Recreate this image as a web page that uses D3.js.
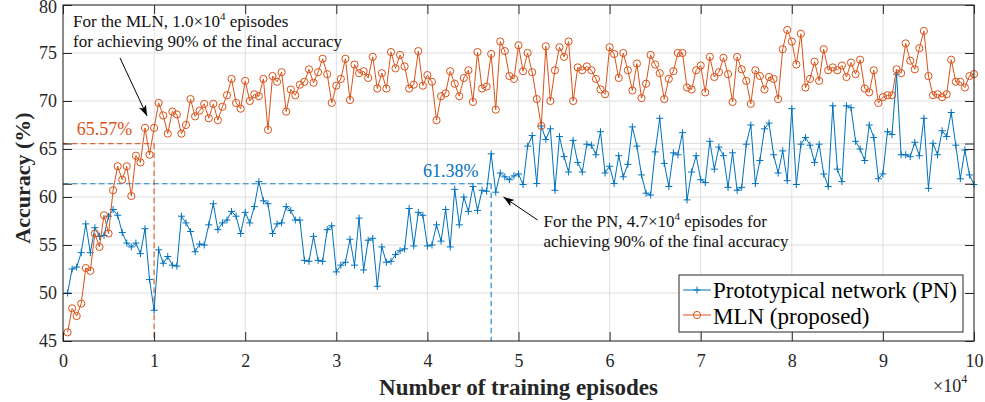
<!DOCTYPE html>
<html>
<head>
<meta charset="utf-8">
<script src="https://cdn.jsdelivr.net/npm/d3@7"></script>
<style>
  html, body { margin: 0; padding: 0; background: #fff; }
  svg { display: block; }
  svg text { font-family: "Liberation Serif", "Times New Roman", serif; }
</style>
</head>
<body>
<svg id="chart" width="985" height="402"></svg>
<script>
// ---- data (accuracy %, one value every 0.05 x 10^4 episodes, from 0.05 to 10) ----
const episodeStep = 0.05;
const pnAccuracy = [
  50.0,52.5,52.7,54.2,57.2,54.2,56.8,55.9,56.0,58.0,
  58.7,58.1,56.3,55.2,54.8,55.2,54.1,56.7,51.4,48.2,
  54.5,53.1,53.8,52.9,52.8,58.0,57.3,56.4,54.3,55.1,
  55.0,57.1,59.3,56.6,57.3,57.6,58.5,58.0,56.2,58.4,
  57.3,59.0,61.6,59.6,59.3,56.2,57.2,57.3,59.0,58.6,
  57.6,57.6,53.4,53.3,55.9,53.4,53.3,56.6,57.0,52.2,
  52.9,53.2,55.6,52.9,57.8,52.4,55.5,55.7,50.7,54.8,
  53.2,53.3,54.0,54.4,54.6,58.8,54.9,58.4,58.1,54.9,
  55.0,57.1,55.4,58.7,54.8,60.8,57.1,60.0,58.5,61.1,
  58.6,60.7,60.6,64.5,60.5,62.5,62.1,61.8,62.2,62.4,
  61.3,65.3,66.4,61.4,67.4,66.0,67.1,60.7,66.3,64.2,
  62.6,65.9,63.6,62.6,65.5,65.4,64.4,66.8,62.5,63.2,
  61.4,64.3,62.1,63.4,67.3,65.3,62.3,60.4,60.2,64.7,
  68.2,63.5,61.1,64.6,64.4,66.7,59.7,62.6,64.3,61.8,
  61.5,65.8,62.9,65.2,64.3,61.0,64.6,60.7,61.0,65.5,
  67.5,61.4,63.8,67.1,67.7,64.4,62.5,64.8,61.7,69.2,
  61.3,65.5,66.2,65.4,63.6,65.5,62.4,61.1,69.5,62.9,
  61.6,69.5,69.3,65.8,65.0,63.8,67.5,66.2,61.9,62.4,
  66.8,66.5,72.8,64.4,64.4,64.2,65.7,64.3,68.2,60.9,
  65.6,64.4,66.9,66.3,68.8,65.4,61.9,64.9,62.3,61.3
];
const mlnAccuracy = [
  45.9,48.4,47.6,48.9,52.6,52.3,56.2,54.8,58.1,56.2,
  60.7,63.2,61.8,63.2,60.1,64.3,63.6,67.2,64.4,67.2,
  69.8,68.5,66.6,68.9,68.6,66.6,67.5,70.2,68.4,69.0,
  69.7,68.2,69.7,68.0,69.4,70.6,72.3,69.8,69.2,72.1,
  70.0,70.7,70.5,72.3,67.0,72.6,72.0,73.0,68.9,71.2,
  70.6,71.7,72.0,73.3,71.9,73.0,74.4,72.8,69.8,71.6,
  72.3,74.4,70.1,73.8,72.9,73.1,72.4,74.6,71.3,72.9,
  71.3,75.1,73.4,74.8,73.6,71.3,71.7,75.2,71.6,72.7,
  72.0,68.0,70.5,70.8,73.1,71.8,70.5,72.4,73.2,69.9,
  75.1,71.3,71.5,74.9,69.1,76.2,75.2,72.6,72.3,75.8,
  73.1,75.0,73.0,70.2,67.4,75.7,70.0,73.2,75.6,74.6,
  76.2,70.0,73.5,73.2,73.6,73.2,72.3,71.2,70.7,75.6,
  74.9,72.4,75.0,73.2,71.1,73.9,70.3,71.8,74.8,73.8,
  72.9,70.2,72.3,73.1,75.0,75.0,71.4,71.2,73.2,73.7,
  70.9,74.6,72.5,73.0,74.5,72.8,69.9,74.6,73.3,72.1,
  69.7,73.2,72.6,71.2,72.5,72.3,70.2,75.4,77.4,76.2,
  73.8,77.0,71.4,72.3,74.1,72.1,75.4,73.2,73.5,73.2,
  73.7,72.5,74.0,72.8,74.3,71.3,70.9,73.2,69.8,70.4,
  70.6,70.6,73.3,72.9,76.0,74.2,73.3,75.5,77.3,72.6,
  70.6,70.7,70.4,70.7,74.3,72.0,72.0,71.4,72.6,72.8
];
const xTicks = [0,1,2,3,4,5,6,7,8,9,10];
const yTicks = [45,50,55,60,61.38,65,65.57,70,75,80];
const yTickLabels = ["45","50","55","60","","65","","70","75","80"];
const seriesNames = ["Prototypical network (PN)", "MLN (proposed)"];
const mlnThreshold = {x: 1.0, y: 65.57, label: "65.57%"};
const pnThreshold = {x: 4.7, y: 61.38, label: "61.38%"};

// ---- layout ----
const FONT = "'Liberation Serif', 'Times New Roman', serif";
const svg = d3.select("#chart");
const L = 63, R = 974, T = 5, B = 341;
const x = d3.scaleLinear().domain([0,10]).range([L,R]);
const y = d3.scaleLinear().domain([45,80]).range([B,T]);
const blue = "#0072BD", orange = "#D95319", axisCol = "#262626", gridCol = "#dedede";

const toPts = arr => arr.map((v,i) => ({x: (i+1)*episodeStep, y: v}));
const pn = toPts(pnAccuracy), mln = toPts(mlnAccuracy);

// grid
const grid = svg.append("g");
grid.selectAll(".gx").data(xTicks).join("line")
  .attr("x1", d=>x(d)).attr("x2", d=>x(d)).attr("y1", T).attr("y2", B)
  .attr("stroke", gridCol).attr("stroke-width", 1);
grid.selectAll(".gy").data(yTicks).join("line")
  .attr("x1", L).attr("x2", R).attr("y1", d=>y(d)).attr("y2", d=>y(d))
  .attr("stroke", gridCol).attr("stroke-width", 1);

// threshold dashed lines
function thresh(t, col) {
  const g = svg.append("g").attr("stroke", col).attr("stroke-width", 1.2)
    .attr("stroke-dasharray", "5.5,3.5").attr("fill", "none").attr("opacity", 0.85);
  g.append("line").attr("x1", x(0)).attr("x2", x(t.x)).attr("y1", y(t.y)).attr("y2", y(t.y));
  g.append("line").attr("x1", x(t.x)).attr("x2", x(t.x)).attr("y1", y(t.y)).attr("y2", y(45));
}
thresh(mlnThreshold, orange);
thresh(pnThreshold, blue);

// series
const line = d3.line().x(d=>x(d.x)).y(d=>y(d.y));
svg.append("path").datum(pn).attr("d", line).attr("fill","none").attr("stroke", blue).attr("stroke-width", 1);
svg.append("g").selectAll("path").data(pn).join("path")
  .attr("transform", d=>`translate(${x(d.x)},${y(d.y)})`)
  .attr("d", "M-3.5,0H3.5M0,-3.5V3.5").attr("stroke", blue).attr("stroke-width", 1).attr("fill","none");

svg.append("path").datum(mln).attr("d", line).attr("fill","none").attr("stroke", orange).attr("stroke-width", 1);
svg.append("g").selectAll("circle").data(mln).join("circle")
  .attr("cx", d=>x(d.x)).attr("cy", d=>y(d.y)).attr("r", 3.6)
  .attr("fill","none").attr("stroke", orange).attr("stroke-width", 1);

// axes
const tk = 9;
const axB = svg.append("g").attr("transform", `translate(0,${B})`)
  .call(d3.axisBottom(x).tickValues(xTicks).tickSizeInner(-tk).tickSizeOuter(0).tickPadding(13).tickFormat(d3.format("d")));
const axT = svg.append("g").attr("transform", `translate(0,${T})`)
  .call(d3.axisTop(x).tickValues(xTicks).tickSizeInner(-tk).tickSizeOuter(0).tickFormat(""));
const axLf = svg.append("g").attr("transform", `translate(${L},0)`)
  .call(d3.axisLeft(y).tickValues(yTicks).tickSizeInner(-tk).tickSizeOuter(0).tickPadding(6)
    .tickFormat((d,i)=>yTickLabels[i]));
const axRt = svg.append("g").attr("transform", `translate(${R},0)`)
  .call(d3.axisRight(y).tickValues(yTicks).tickSizeInner(-tk).tickSizeOuter(0).tickFormat(""));
[axB, axT, axLf, axRt].forEach(a => {
  a.select(".domain").remove();
  a.selectAll("line").attr("stroke", axisCol).attr("stroke-width", 1);
  a.selectAll("text").filter(function(){ return this.textContent === ""; }).remove();
  a.selectAll("text").attr("fill", axisCol).style("font-size", "18px").style("font-family", FONT);
});
// keep the top label ("80") inside the picture
axLf.selectAll("text").filter(d => d === 80).attr("dy", "0.42em");
svg.append("rect").attr("x", L).attr("y", T).attr("width", R-L).attr("height", B-T)
  .attr("fill","none").attr("stroke", axisCol).attr("stroke-width", 1);

// axis labels
svg.append("text").attr("x", (L+R)/2).attr("y", 395).attr("text-anchor","middle")
  .style("font-family", FONT).style("font-size","23px").style("font-weight","bold").attr("fill", axisCol)
  .text("Number of training episodes");
svg.append("text").attr("transform", `translate(30,178) rotate(-90)`).attr("text-anchor","middle")
  .style("font-family", FONT).style("font-size","22px").style("font-weight","bold").attr("fill", axisCol)
  .text("Accuracy (%)");
const mult = svg.append("text").attr("x", 933).attr("y", 392)
  .style("font-family", FONT).style("font-size","18px").attr("fill", axisCol);
mult.append("tspan").text("×10");
mult.append("tspan").attr("dy", -9).style("font-size","12px").text("4");

// threshold labels
svg.append("text").attr("x", x(0.15)).attr("y", y(66.46))
  .style("font-family", FONT).style("font-size","18px").attr("fill", orange).text(mlnThreshold.label);
svg.append("text").attr("x", x(3.953)).attr("y", y(62.11))
  .style("font-family", FONT).style("font-size","18px").attr("fill", blue).text(pnThreshold.label);

// annotations
svg.append("defs").append("marker").attr("id","ah").attr("viewBox","0 0 10 7")
  .attr("refX", 10).attr("refY", 3.5).attr("markerWidth", 11).attr("markerHeight", 8)
  .attr("markerUnits","userSpaceOnUse").attr("orient","auto")
  .append("path").attr("d","M0,0 L10,3.5 L0,7 L2.5,3.5 Z").attr("fill","#000");

function annText(px, baselines, lines) {
  lines.forEach((parts, k) => {
    const t = svg.append("text").attr("x", x(px)).attr("y", y(baselines[k]))
      .style("font-family", FONT).style("font-size","17px").attr("fill","#111");
    let pendingDy = 0;
    parts.forEach(p => {
      if (typeof p === "string") {
        const s = t.append("tspan").text(p);
        if (pendingDy) { s.attr("dy", pendingDy); pendingDy = 0; }
      } else {
        t.append("tspan").attr("dy", -7).style("font-size","11px").text(p.superscript);
        pendingDy = 7;
      }
    });
  });
}
annText(0.11, [77.7, 75.6], [
  ["For the MLN, 1.0×10", {superscript:"4"}, " episodes"],
  ["for achieving 90% of the final accuracy"]
]);
annText(5.275, [56.9, 54.8], [
  ["For the PN, 4.7×10", {superscript:"4"}, " episodes for"],
  ["achieving 90% of the final accuracy"]
]);
svg.append("line").attr("x1", x(0.626)).attr("y1", y(74.48)).attr("x2", x(0.923)).attr("y2", y(68.44))
  .attr("stroke","#000").attr("stroke-width",1).attr("marker-end","url(#ah)");
svg.append("line").attr("x1", x(5.21)).attr("y1", y(57.6)).attr("x2", x(4.835)).attr("y2", y(60.0))
  .attr("stroke","#000").attr("stroke-width",1).attr("marker-end","url(#ah)");

// legend
const lg = svg.append("g");
lg.append("rect").attr("x", 679).attr("y", 275).attr("width", 284).attr("height", 57)
  .attr("fill","#fff").attr("stroke", axisCol).attr("stroke-width", 1);
const rows = [{name: seriesNames[0], col: blue, cy: 290, ty: 298, m: "plus"},
              {name: seriesNames[1], col: orange, cy: 315, ty: 324, m: "circle"}];
rows.forEach(r => {
  lg.append("line").attr("x1", 683).attr("x2", 711).attr("y1", r.cy).attr("y2", r.cy)
    .attr("stroke", r.col).attr("stroke-width", 1);
  if (r.m === "plus") lg.append("path").attr("transform", `translate(697,${r.cy})`)
    .attr("d","M-3.5,0H3.5M0,-3.5V3.5").attr("stroke", r.col).attr("stroke-width",1);
  else lg.append("circle").attr("cx", 697).attr("cy", r.cy).attr("r", 3.6)
    .attr("fill","none").attr("stroke", r.col).attr("stroke-width",1);
  lg.append("text").attr("x", 713).attr("y", r.ty)
    .style("font-family", FONT).style("font-size","23px").attr("fill","#000").text(r.name);
});
</script>
</body>
</html>
